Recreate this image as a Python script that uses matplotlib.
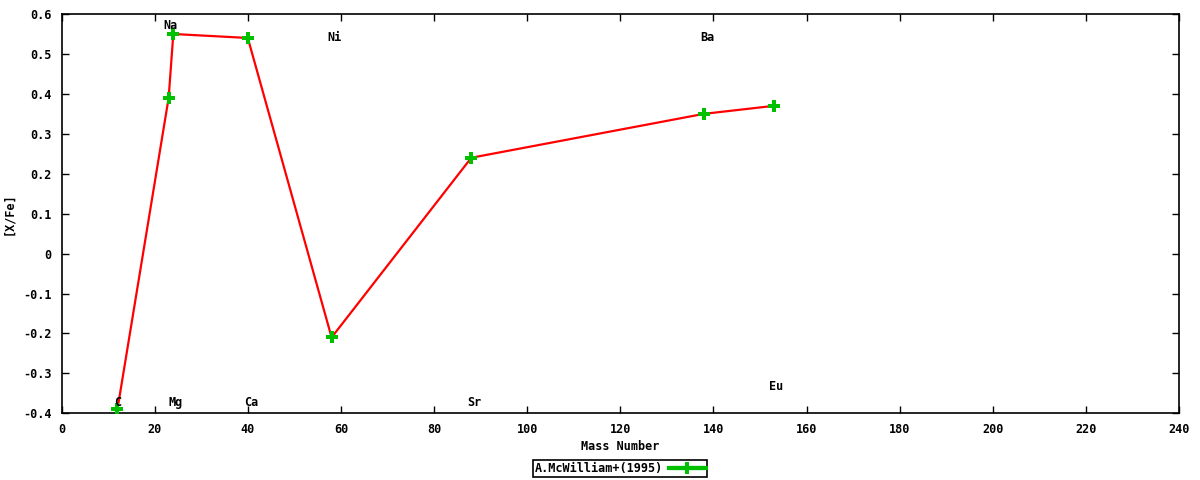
import matplotlib
matplotlib.use("Agg")
import numpy as np
import matplotlib.pyplot as plt
from matplotlib.ticker import FuncFormatter, MultipleLocator
from matplotlib.container import ErrorbarContainer
from matplotlib.legend_handler import HandlerErrorbar

# Data
mass_number = [12, 23, 24, 40, 58, 88, 138, 153]
x_fe = [-0.39, 0.39, 0.55, 0.54, -0.21, 0.24, 0.35, 0.37]
series_label = "A.McWilliam+(1995)"

elements = ["C", "Na", "Mg", "Ca", "Ni", "Sr", "Ba", "Eu"]
label_x = [12.0, 23.5, 24.6, 40.7, 58.7, 88.7, 138.7, 153.5]
label_y = [-0.372, 0.57, -0.372, -0.372, 0.54, -0.372, 0.54, -0.332]

FS = 8.5
plt.rcParams["font.family"] = ["DejaVu Sans Mono"]
plt.rcParams["font.weight"] = "bold"

green = "#00c000"
fig = plt.figure(figsize=(12, 4.8), dpi=100)
ax = fig.add_axes([0.0513, 0.139, 0.9312, 0.8318])

ax.plot(mass_number, x_fe, color="#ff0000", lw=1.6, zorder=2)
ax.plot(mass_number, x_fe, "P", color=green, ms=9, mew=0, zorder=3)

# legend proxy (error-bar style sample as in the reference key)
proxy = ax.errorbar([np.nan], [np.nan], xerr=[[1], [1]], fmt="-", marker="P",
                    color=green, lw=3, ms=9, mew=0, ecolor=green,
                    elinewidth=3, capsize=5, capthick=3, label=series_label)

for el, lx, ly in zip(elements, label_x, label_y):
    ax.text(lx, ly, el, ha="center", va="center", fontsize=FS, fontweight="bold",
            color="black", zorder=4)

ax.set_xlim(0, 240)
ax.set_ylim(-0.4, 0.6)
ax.xaxis.set_major_locator(MultipleLocator(20))
ax.yaxis.set_major_locator(MultipleLocator(0.1))
fmt = FuncFormatter(lambda v, p: ("%g" % round(v, 2)).replace("\u2212", "-"))
ax.xaxis.set_major_formatter(fmt)
ax.yaxis.set_major_formatter(fmt)
ax.tick_params(direction="in", length=5, width=1, top=True, right=True,
               labelsize=FS, pad=7)
for lab in ax.get_xticklabels() + ax.get_yticklabels():
    lab.set_fontweight("bold")
for s in ax.spines.values():
    s.set_linewidth(1.2)
    s.set_color("black")

ax.set_xlabel("Mass Number", fontsize=FS, fontweight="bold", labelpad=3)
ax.set_ylabel("[X/Fe]", fontsize=FS, fontweight="bold", labelpad=6)

hl = 3.1
leg = ax.legend(handles=[proxy], loc="center", bbox_to_anchor=(0.500, -0.138),
                frameon=True, fancybox=False, markerfirst=False, fontsize=FS,
                handlelength=hl, borderpad=0.15, handletextpad=0.5,
                borderaxespad=0, edgecolor="black", framealpha=1,
                handler_map={ErrorbarContainer: HandlerErrorbar(xerr_size=hl / 2 * 0.95)})
leg.get_frame().set_linewidth(1.2)
for t in leg.get_texts():
    t.set_fontweight("bold")

fig.savefig("out.png", dpi=100)
